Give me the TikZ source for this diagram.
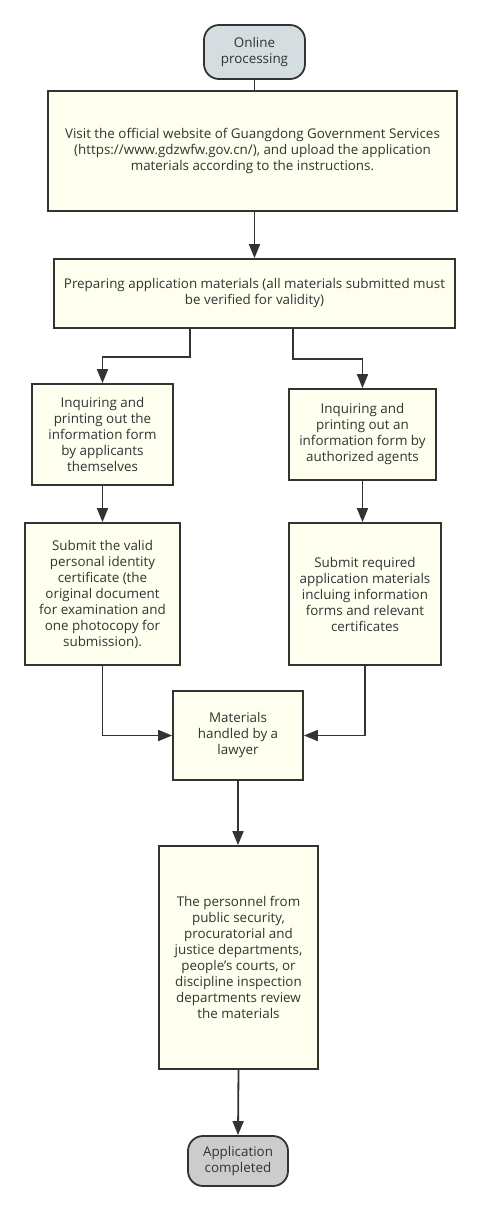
\documentclass[tikz,border=0pt]{standalone}
\usepackage{fontspec}
\setmainfont{Open Sans}
\usetikzlibrary{arrows.meta}
\definecolor{boxfill}{HTML}{FEFFEE}
\definecolor{startfill}{HTML}{D5DDE0}
\definecolor{endfill}{HTML}{CCCCCC}
\definecolor{ink}{HTML}{333333}
\tikzset{
  base/.style={draw=ink, line width=1.8pt, text=ink, align=center, inner sep=2pt,
    font=\fontsize{13.4}{16}\selectfont},
  box/.style={base, rectangle, fill=boxfill},
  term/.style={base, rounded corners=15pt},
  arr/.style={draw=ink, line width=1.8pt, -{Triangle[length=14pt,width=11pt]}},
  ln/.style={draw=ink, line width=1.8pt},
}
\begin{document}
\begin{tikzpicture}[x=1pt,y=-1pt]
\useasboundingbox (0,0) rectangle (481,1211);
\node[term, fill=startfill, minimum width=101pt, minimum height=54pt] (n1) at (254.5,52) {Online\\processing};
\node[box, minimum width=409pt, minimum height=120pt] (n2) at (252.5,151) {Visit the official website of Guangdong Government Services\\(https://www.gdzwfw.gov.cn/), and upload the application\\materials according to the instructions.};
\node[box, minimum width=401pt, minimum height=69pt] (n3) at (254.5,293.5) {Preparing application materials (all materials submitted must\\be verified for validity)};
\node[box, minimum width=141pt, minimum height=101pt] (n4) at (102.5,434.5) {Inquiring and\\printing out the\\information form\\by applicants\\themselves};
\node[box, minimum width=147pt, minimum height=91pt] (n5) at (362.5,434.5) {Inquiring and\\printing out an\\information form by\\authorized agents};
\node[box, minimum width=155pt, minimum height=142pt] (n6) at (102.5,594) {Submit the valid\\personal identity\\certificate (the\\original document\\for examination and\\one photocopy for\\submission).};
\node[box, minimum width=152pt, minimum height=142pt] (n7) at (365,594) {Submit required\\application materials\\incluing information\\forms and relevant\\certificates};
\node[box, minimum width=130pt, minimum height=89pt] (n8) at (238,735.5) {Materials\\handled by a\\lawyer};
\node[box, minimum width=159pt, minimum height=223pt] (n9) at (238.5,957.5) {The personnel from\\public security,\\procuratorial and\\justice departments,\\people's courts, or\\discipline inspection\\departments review\\the materials};
\node[term, fill=endfill, minimum width=100pt, minimum height=50pt] (n10) at (238,1161) {Application\\completed};

\draw[ln] (n1.south) -- (n1.south |- n2.north);
\draw[arr] (n2.south -| n1.south) -- (n1.south |- n3.north);
\draw[arr] ([xshift=-64.5]n3.south) -- ++(0,28) -| (n4.north);
\draw[arr] ([xshift=38.5]n3.south) -- ++(0,30) -| (n5.north);
\draw[arr] (n4.south) -- (n6.north);
\draw[arr] (n5.south) -- (n5.south |- n7.north);
\draw[arr] (n6.south) |- (n8.west);
\draw[arr] (n7.south) |- (n8.east);
\draw[arr] (n8.south) -- (n8.south |- n9.north);
\draw[arr] (n9.south) -- (n10.north);
\end{tikzpicture}
\end{document}
